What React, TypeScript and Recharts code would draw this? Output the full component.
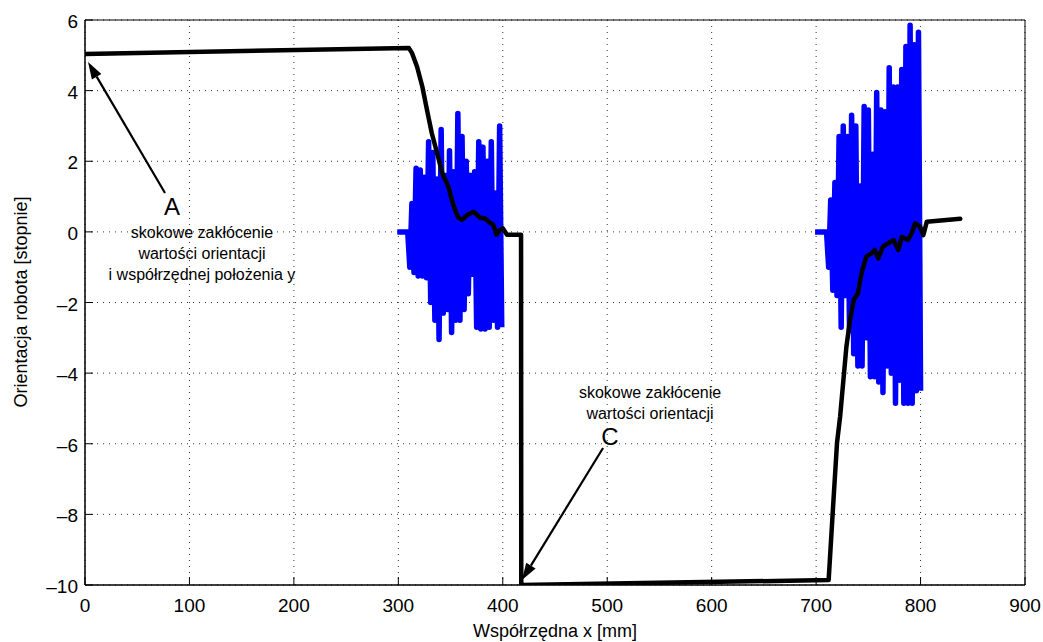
import {
  LineChart,
  Line,
  XAxis,
  YAxis,
  CartesianGrid,
  ReferenceArea,
  ReferenceLine,
  ReferenceDot,
} from "recharts";

const xTicks = [0, 100, 200, 300, 400, 500, 600, 700, 800, 900];
const yTicks = [-10, -8, -6, -4, -2, 0, 2, 4, 6];

// orientacja (czarna linia)
const orientX = [
  0, 310, 313, 318, 323, 328, 332, 337, 342, 348, 352, 357, 361, 366, 372, 378, 383, 388, 391, 394, 397, 400,
  404, 417.5, 417.7, 712, 716, 720, 723, 729, 732.5, 736, 740, 743.5, 748, 753, 756, 759.5, 764, 774, 778.7,
  782, 788, 791.5, 794.7, 799.5, 802.7, 806, 838,
];
const orientY = [
  5.04, 5.21, 5.07, 4.67, 4.11, 3.37, 2.8, 2.24, 1.67, 1.27, 0.82, 0.42, 0.34, 0.48, 0.57, 0.4, 0.38, 0.25, 0.2,
  -0.08, 0.05, 0.1, -0.08, -0.08, -10, -9.86, -7.9, -5.98, -5.23, -3.25, -2.5, -1.93, -1.74, -1.17, -0.7, -0.61,
  -0.51, -0.75, -0.42, -0.23, -0.51, -0.14, -0.23, -0.04, 0.24, 0.15, -0.09, 0.29, 0.37,
];

// zakłócenie 1 (niebieskie)
const noise1X = [
  299, 309, 311, 313, 315, 317, 319, 321, 323, 325, 327, 329, 331, 333, 335, 337, 339, 341, 343, 345, 347, 349,
  351, 353, 355, 357, 359, 361, 363, 365, 367, 369, 371, 373, 375, 377, 379, 381, 383, 385, 387, 389, 391, 393,
  395, 397, 399,
];
const noise1Y = [
  0, 0, -1.0, 0.8, -1.15, 1.8, -1.25, 1.75, -1.25, 1.55, -1.3, 2.55, -2.0, 2.25, -2.5, 1.5, -3.05, 2.9, -2.3, 1.6,
  -2.2, 2.3, -2.85, 1.7, -2.5, 3.35, -2.5, 2.7, -2.2, 2.0, -1.75, 1.6, -1.2, 1.7, -2.7, 2.55, -2.75, 2.4, -2.75,
  2.0, -2.7, 2.55, -2.5, 1.1, -2.7, 3.0, -2.7,
];

// zakłócenie 2 (niebieskie)
const noise2X = [
  699, 710, 712, 714, 716, 718, 720, 722, 724, 726, 728, 730, 732, 734, 736, 738, 740, 742, 744, 746, 748, 750,
  752, 754, 756, 758, 760, 762, 764, 766, 768, 770, 772, 774, 776, 778, 780, 782, 784, 786, 788, 790, 792, 794,
  796, 798, 800,
];
const noise2Y = [
  0, 0, -1.0, 0.9, -1.65, 1.4, -1.8, 2.7, -2.7, 3.0, -1.8, 2.7, -2.8, 3.3, -3.45, 3.0, -3.8, 1.3, -3.8, 3.55,
  -3.0, 3.45, -4.1, 2.2, -4.1, 3.95, -4.25, 3.45, -4.55, 3.4, -3.8, 4.65, -4.0, 4.1, -4.85, 4.1, -4.2, 4.6, -4.85,
  5.25, -4.85, 5.85, -4.85, 5.3, -4.5, 5.65, -4.5,
];

const zip = (xs: number[], ys: number[]) => xs.map((x, i) => ({ x, y: ys[i] }));
const orientData = zip(orientX, orientY);
const noise1Data = zip(noise1X, noise1Y);
const noise2Data = zip(noise2X, noise2Y);

const FONT = "'Liberation Sans', Arial, Helvetica, sans-serif";
const fmt = (v: number) => (v < 0 ? `\u2013${Math.abs(v)}` : `${v}`);

function XTick({ x, y, payload }: any) {
  return (
    <g>
      <line x1={x} x2={x} y1={y} y2={y - 8} stroke="#000" strokeWidth={1} />
      <text x={x} y={y + 27} textAnchor="middle" fontSize={19} fontFamily={FONT} fill="#000">
        {fmt(payload.value)}
      </text>
    </g>
  );
}

function YTick({ x, y, payload }: any) {
  return (
    <g>
      <line x1={x} x2={x + 8} y1={y} y2={y} stroke="#000" strokeWidth={1} />
      <text x={x - 7} y={y + 8} textAnchor="end" fontSize={19} fontFamily={FONT} fill="#000">
        {fmt(payload.value)}
      </text>
    </g>
  );
}

function Arrow({ x1, y1, x2, y2 }: any) {
  const ang = Math.atan2(y2 - y1, x2 - x1);
  const len = 17;
  const half = 5.5;
  const bx = x2 - len * Math.cos(ang);
  const by = y2 - len * Math.sin(ang);
  const px = -Math.sin(ang) * half;
  const py = Math.cos(ang) * half;
  return (
    <g>
      <line x1={x1} y1={y1} x2={bx} y2={by} stroke="#000" strokeWidth={2.2} />
      <polygon points={`${x2},${y2} ${bx + px},${by + py} ${bx - px},${by - py}`} fill="#000" />
    </g>
  );
}

const textShape = (lines: string[], size: number, gap: number) => (p: any) => (
  <text x={p.cx} y={p.cy} textAnchor="middle" fontSize={size} fontFamily={FONT} fill="#000">
    {lines.map((l, i) => (
      <tspan key={i} x={p.cx} dy={i === 0 ? 0 : gap}>
        {l}
      </tspan>
    ))}
  </text>
);

export default function App() {
  return (
    <div style={{ position: "absolute", left: 0, top: 0, background: "#fff" }}>
      <LineChart
        width={1043}
        height={642}
        margin={{ top: 20, right: 18, bottom: 27, left: 25 }}
        style={{ fontFamily: FONT }}
      >
        <CartesianGrid stroke="#333" strokeDasharray="1 5" strokeWidth={1} />
        <XAxis
          type="number"
          dataKey="x"
          domain={[0, 900]}
          ticks={xTicks}
          interval={0}
          height={30}
          tickSize={0}
          tickMargin={0}
          tickLine={false}
          axisLine={{ stroke: "#000" }}
          tick={<XTick />}
          allowDataOverflow
          label={{
            content: () => (
              <text x={555} y={637} textAnchor="middle" fontSize={18} fontFamily={FONT} fill="#000">
                Współrzędna x [mm]
              </text>
            ),
          }}
        />
        <YAxis
          type="number"
          domain={[-10, 6]}
          ticks={yTicks}
          interval={0}
          width={60}
          tickSize={0}
          tickMargin={0}
          tickLine={false}
          axisLine={{ stroke: "#000" }}
          tick={<YTick />}
          allowDataOverflow
          label={{
            content: () => (
              <text
                x={27}
                y={302}
                transform="rotate(-90 27 302)"
                textAnchor="middle"
                fontSize={18}
                fontFamily={FONT}
                fill="#000"
              >
                Orientacja robota [stopnie]
              </text>
            ),
          }}
        />
        <ReferenceArea x1={0} x2={900} y1={-10} y2={6} fill="none" stroke="#000" strokeWidth={1} />
        <Line
          data={noise1Data}
          dataKey="y"
          stroke="#0000ff"
          strokeWidth={5.5}
          dot={false}
          strokeLinejoin="round"
          isAnimationActive={false}
        />
        <Line
          data={noise2Data}
          dataKey="y"
          stroke="#0000ff"
          strokeWidth={5.5}
          dot={false}
          strokeLinejoin="round"
          isAnimationActive={false}
        />
        <Line
          data={orientData}
          dataKey="y"
          stroke="#000"
          strokeWidth={4.5}
          dot={false}
          strokeLinejoin="round"
          strokeLinecap="round"
          isAnimationActive={false}
        />
        <ReferenceLine segment={[{ x: 76.6, y: 1.1 }, { x: 2.9, y: 4.81 }]} shape={<Arrow />} />
        <ReferenceLine segment={[{ x: 496, y: -6.12 }, { x: 418.4, y: -9.86 }]} shape={<Arrow />} />
        <ReferenceDot x={83.3} y={0.48} r={0} shape={textShape(["A"], 24, 0)} />
        <ReferenceDot
          x={112}
          y={-0.17}
          r={0}
          shape={textShape(["skokowe zakłócenie", "wartości orientacji", "i współrzędnej położenia y"], 16, 21)}
        />
        <ReferenceDot x={502.7} y={-6.03} r={0} shape={textShape(["C"], 24, 0)} />
        <ReferenceDot
          x={541}
          y={-4.7}
          r={0}
          shape={textShape(["skokowe zakłócenie", "wartości orientacji"], 16, 21)}
        />
      </LineChart>
    </div>
  );
}
